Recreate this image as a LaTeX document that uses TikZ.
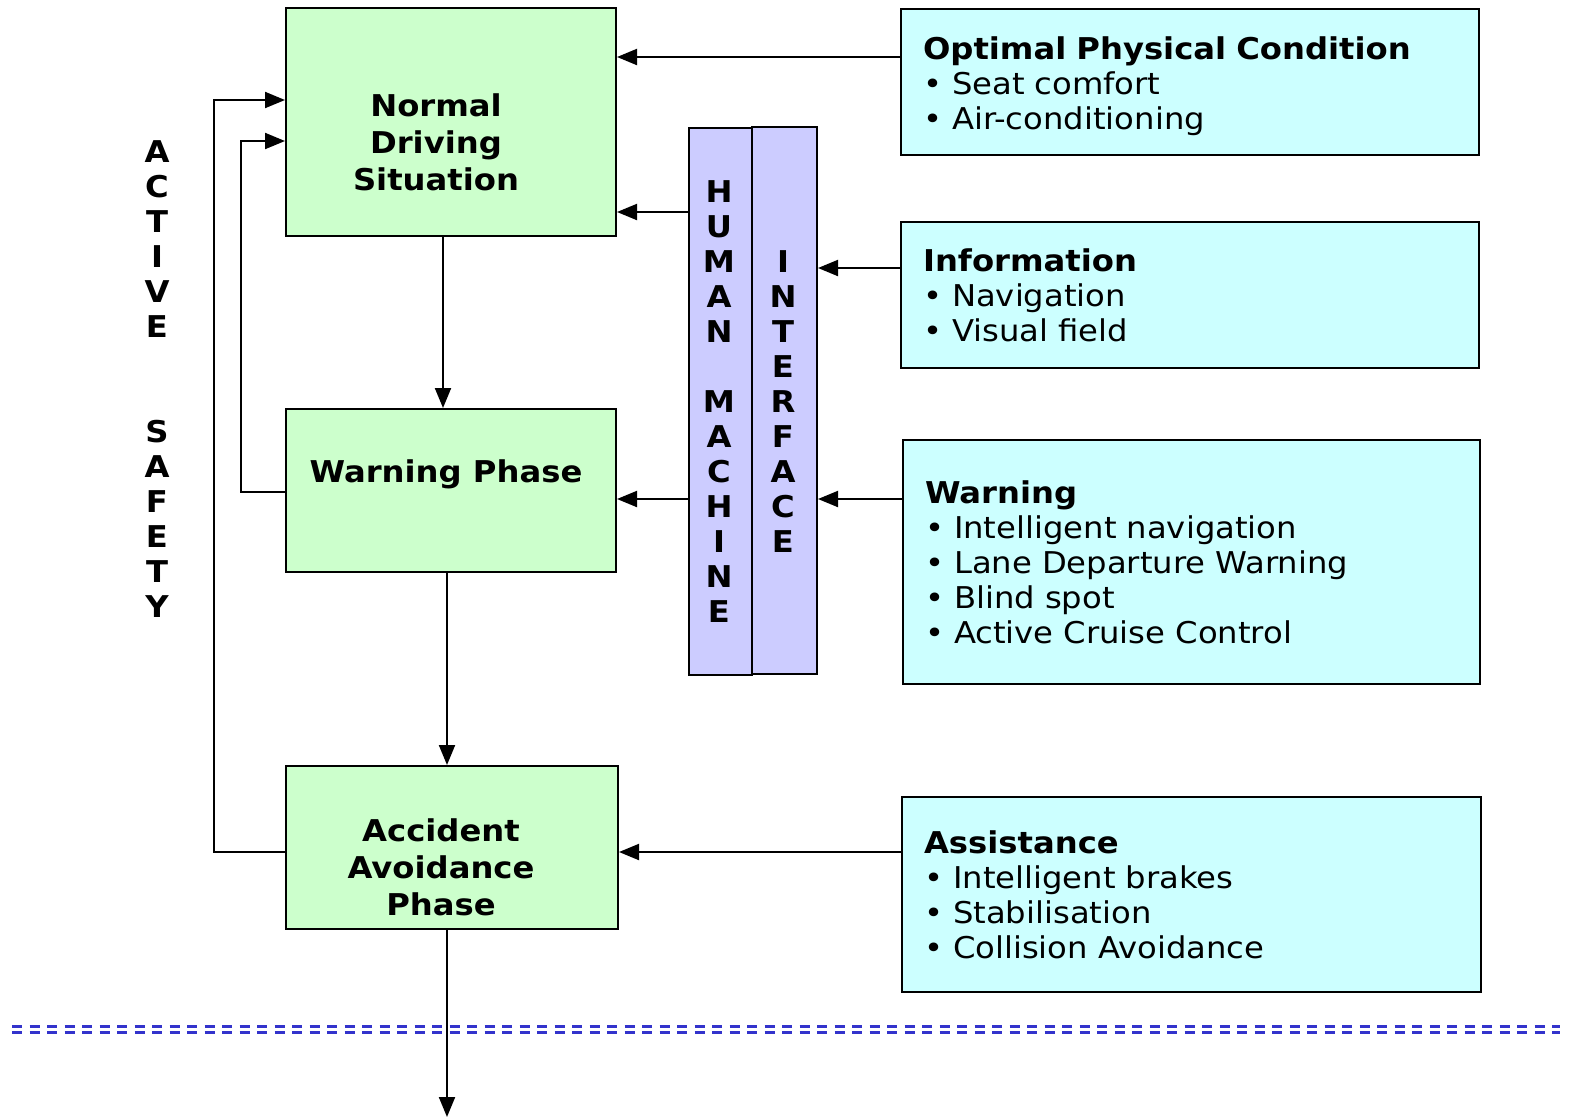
\documentclass[tikz,border=0pt]{standalone}
\usepackage{fontspec}
\setmainfont[FakeStretch=1.075]{DejaVu Sans}
\usetikzlibrary{arrows.meta}

\definecolor{phasegreen}{HTML}{CCFFCC}
\definecolor{infocyan}{HTML}{CCFFFF}
\definecolor{hmiblue}{HTML}{CCCCFF}
\definecolor{lineblue}{HTML}{3333CC}

\newcommand{\toppad}{\rule{0pt}{31pt}}

\begin{document}
\begin{tikzpicture}[x=1pt,y=-1pt,
  every node/.style={font=\fontsize{30}{35}\selectfont},
  phase/.style={draw, line width=2pt, fill=phasegreen, inner sep=0pt, anchor=north west},
  phasetext/.style={font=\fontsize{30}{37}\selectfont\bfseries, align=center},
  info/.style={draw, line width=2pt, fill=infocyan, align=left, inner xsep=22pt,
    inner ysep=0pt, anchor=north west},
  hmi/.style={draw, line width=2pt, fill=hmiblue, inner sep=0pt, anchor=north west},
  letters/.style={font=\fontsize{30}{35}\selectfont\bfseries, align=center},
  flow/.style={line width=2pt, -{Triangle[length=20pt,width=16pt]}}]

  \useasboundingbox (0,0) rectangle (1570,1117);

  % Phases
  \node[phase, minimum width=330pt, minimum height=228pt] (normal) at (285,7) {};
  \node[phase, minimum width=330pt, minimum height=163pt] (warnphase) at (285,408) {};
  \node[phase, minimum width=332pt, minimum height=163pt] (accident) at (285,765) {};
  \node[phasetext] (normaltext) at (436,142) {Normal\\Driving\\Situation};
  \node[phasetext] (warntext) at (446,474) {Warning Phase};
  \node[phasetext] (accidenttext) at (441,867) {Accident\\Avoidance\\Phase};

  % Human machine interface
  \node[hmi, minimum width=63pt, minimum height=547pt] (hmL) at (688,127) {};
  \node[hmi, minimum width=65pt, minimum height=547pt] (hmR) at (751,126) {};
  \node[letters] (hmtext) at (719,402) {H\\U\\M\\A\\N\\[35pt]M\\A\\C\\H\\I\\N\\E};
  \node[letters] (iftext) at (783,402) {I\\N\\T\\E\\R\\F\\A\\C\\E};

  % Side label
  \node[letters] (activesafety) at (157,379) {A\\C\\T\\I\\V\\E\\[70pt]S\\A\\F\\E\\T\\Y};

  % Systems
  \node[info, text width=534pt, minimum height=146pt] (optimal) at (900,8)
    {\toppad\textbf{Optimal Physical Condition}\\\textbullet\ Seat comfort\\\textbullet\ Air-conditioning};
  \node[info, text width=534pt, minimum height=146pt] (information) at (900,221)
    {\textbf{Information}\\\textbullet\ Navigation\\\textbullet\ Visual field};
  \node[info, text width=533pt, minimum height=244pt] (warning) at (902,439)
    {\textbf{Warning}\\\textbullet\ Intelligent navigation\\\textbullet\ Lane Departure Warning\\
     \textbullet\ Blind spot\\\textbullet\ Active Cruise Control};
  \node[info, text width=535pt, minimum height=195pt] (assistance) at (901,796)
    {\textbf{Assistance}\\\textbullet\ Intelligent brakes\\\textbullet\ Stabilisation\\
     \textbullet\ Collision Avoidance};

  % Connectors
  \draw[flow] (optimal.west |- 0,57) -- (normal.east |- 0,57);
  \draw[flow] (hmL.west |- 0,212) -- (normal.east |- 0,212);
  \draw[flow] (information.west |- 0,268) -- (hmR.east |- 0,268);
  \draw[flow] (hmL.west |- 0,499) -- (warnphase.east |- 0,499);
  \draw[flow] (warning.west |- 0,499) -- (hmR.east |- 0,499);
  \draw[flow] (assistance.west |- 0,852) -- (accident.east |- 0,852);
  \draw[flow] (normal.south -| 443,0) -- (warnphase.north -| 443,0);
  \draw[flow] (warnphase.south -| 447,0) -- (accident.north -| 447,0);
  \coordinate (exit) at (447,1117);
  \draw[flow] (accident.south -| exit) -- (exit);

  % Feedback loops
  \draw[flow] (accident.west |- 0,852) -| (214,100) -- (normal.west |- 0,100);
  \draw[flow] (warnphase.west |- 0,492) -| (241,141) -- (normal.west |- 0,141);

  % Boundary line
  \draw[lineblue, line width=3pt, dash pattern=on 10pt off 7.5pt] (12,1026) -- (1560,1026);
  \draw[lineblue, line width=3pt, dash pattern=on 10pt off 7.5pt] (12,1032) -- (1560,1032);
\end{tikzpicture}
\end{document}
